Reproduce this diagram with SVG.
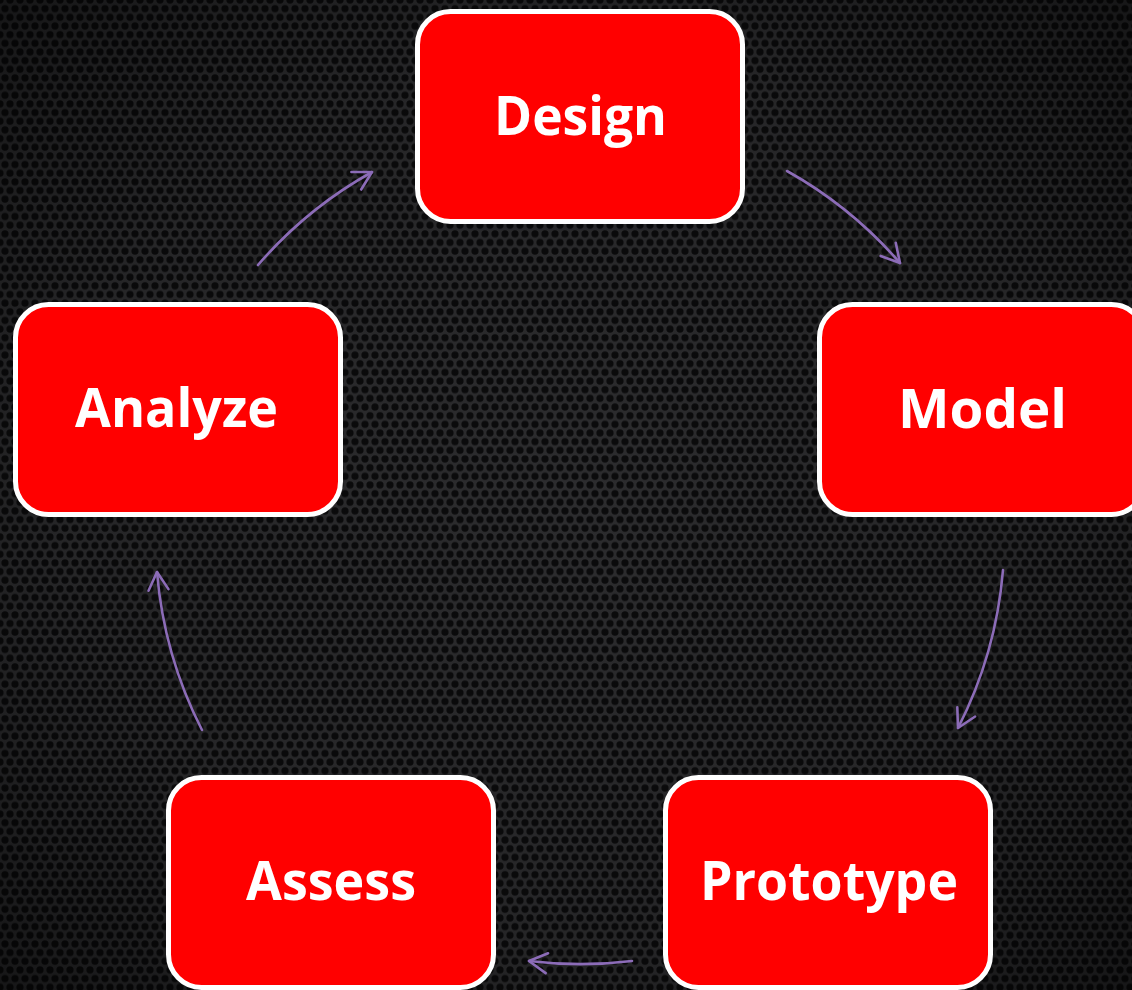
<svg xmlns="http://www.w3.org/2000/svg" width="1132" height="990" viewBox="0 0 1132 990">
  <defs>
    <pattern id="hex" width="10" height="17.32" patternUnits="userSpaceOnUse">
      <rect width="10" height="17.32" fill="#2c2c2e"/>
      <circle cx="0" cy="0" r="3.6" fill="#0b0b0c"/>
      <circle cx="10" cy="0" r="3.6" fill="#0b0b0c"/>
      <circle cx="0" cy="17.32" r="3.6" fill="#0b0b0c"/>
      <circle cx="10" cy="17.32" r="3.6" fill="#0b0b0c"/>
      <circle cx="5" cy="8.66" r="3.6" fill="#0b0b0c"/>
    </pattern>
    <radialGradient id="vig" cx="0.5" cy="0.5" r="0.75">
      <stop offset="0" stop-color="#000" stop-opacity="0"/>
      <stop offset="0.6" stop-color="#000" stop-opacity="0.15"/>
      <stop offset="1" stop-color="#000" stop-opacity="0.55"/>
    </radialGradient>
    <marker id="arrow" markerUnits="userSpaceOnUse" markerWidth="30" markerHeight="30" refX="0" refY="0" viewBox="-25 -15 30 30" orient="auto" overflow="visible">
      <path d="M-18,-10 L0,0 L-18,10" fill="none" stroke="#8c6cb8" stroke-width="2.6" stroke-linecap="round" stroke-linejoin="round"/>
    </marker>
    <style>
      .box { fill: #ff0000; stroke: #ffffff; stroke-width: 5; }
      .label { font-family: "Open Sans", "Noto Sans", "Liberation Sans", sans-serif; font-weight: 700; font-size: 54px; fill: #ffffff; text-anchor: middle; }
      .conn { fill: none; stroke: #8c6cb8; stroke-width: 2.6; stroke-linecap: round; marker-end: url(#arrow); }
    </style>
  </defs>
  <rect width="1132" height="990" fill="url(#hex)"/>
  <rect width="1132" height="990" fill="url(#vig)"/>

  <g id="connectors">
    <path class="conn" d="M258,265 A423,423 0 0 1 372,172"/>
    <path class="conn" d="M787,171 A423,423 0 0 1 900,263"/>
    <path class="conn" d="M1003,570 A423,423 0 0 1 958,728"/>
    <path class="conn" d="M632,961 A423,423 0 0 1 529,961"/>
    <path class="conn" d="M202,730 A423,423 0 0 1 157,572"/>
  </g>

  <g id="design">
    <rect class="box" x="417.5" y="11.5" width="325" height="210" rx="33"/>
    <text class="label" x="580.5" y="135" textLength="173" lengthAdjust="spacingAndGlyphs">Design</text>
  </g>
  <g id="model">
    <rect class="box" x="819.5" y="304.5" width="325" height="210" rx="33"/>
    <text class="label" x="982.5" y="428" textLength="169" lengthAdjust="spacingAndGlyphs">Model</text>
  </g>
  <g id="prototype">
    <rect class="box" x="665.5" y="777.5" width="325" height="210" rx="33"/>
    <text class="label" x="829" y="900" textLength="258" lengthAdjust="spacingAndGlyphs">Prototype</text>
  </g>
  <g id="assess">
    <rect class="box" x="168.5" y="777.5" width="325" height="210" rx="33"/>
    <text class="label" x="331" y="900" textLength="170" lengthAdjust="spacingAndGlyphs">Assess</text>
  </g>
  <g id="analyze">
    <rect class="box" x="15.5" y="304.5" width="325" height="210" rx="33"/>
    <text class="label" x="176.5" y="427" textLength="203" lengthAdjust="spacingAndGlyphs">Analyze</text>
  </g>
</svg>
